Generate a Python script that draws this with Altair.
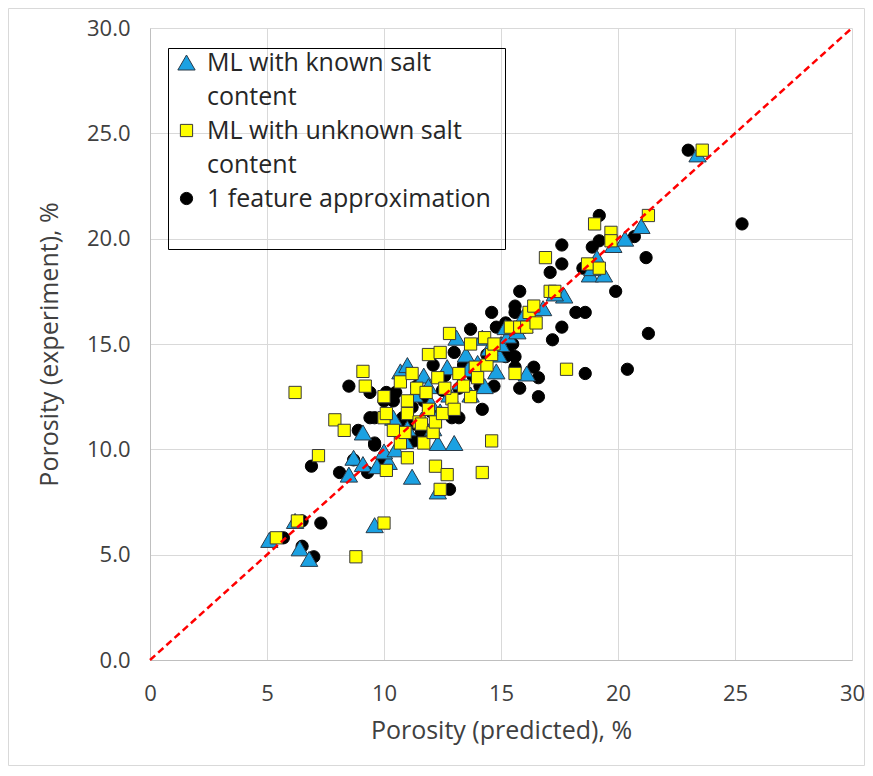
import altair as alt
import pandas as pd

# ML with known salt content (triangles)
tri_x = [5.1, 6.2, 6.4, 6.8, 9.6, 8.5, 8.7, 9.1, 9.7, 10.2, 9.1, 11.2, 12.3, 12.3, 13.0,
         10.7, 11.0, 11.7, 13.1, 14.2, 14.9, 14.8, 16.1, 16.8, 17.7, 18.8, 19.4, 19.8, 20.3,
         21.0, 23.4, 10.4, 11.0, 11.6, 12.0, 12.4, 12.8, 13.3, 13.6, 14.0, 14.5, 15.0, 15.3,
         15.7, 16.0, 16.3, 10.9, 10.0, 12.7, 13.7, 12.1, 11.3, 14.3, 15.2, 16.0, 17.3, 18.9,
         19.1, 10.5, 11.9, 13.5]
tri_y = [5.7, 6.6, 5.3, 4.8, 6.4, 8.8, 9.6, 9.3, 9.2, 9.4, 10.8, 8.7, 8.0, 10.3, 10.3,
         13.7, 14.0, 13.5, 15.3, 15.3, 14.5, 13.7, 13.6, 16.7, 17.3, 18.3, 18.3, 19.7, 20.0,
         20.6, 24.0, 11.5, 11.0, 11.4, 12.2, 11.8, 12.6, 13.2, 13.8, 14.1, 14.8, 15.0, 15.4,
         15.6, 15.9, 16.2, 10.4, 9.9, 13.9, 12.6, 11.0, 12.6, 13.0, 15.8, 16.4, 17.4, 18.6,
         19.1, 10.0, 13.0, 14.5]

# ML with unknown salt content (squares)
sq_x = [5.4, 6.3, 6.2, 7.2, 7.9, 8.3, 8.8, 9.1, 9.2, 10.0, 10.0, 10.0, 10.1, 10.1, 10.7,
        10.7, 11.0, 11.0, 11.0, 11.2, 11.4, 11.5, 11.6, 11.7, 11.8, 11.9, 11.9, 12.1, 12.2,
        12.2, 12.3, 12.4, 12.4, 12.5, 12.7, 12.8, 13.7, 13.7, 13.9, 14.2, 14.3, 14.4, 14.6,
        14.6, 14.7, 15.4, 15.6, 15.8, 16.1, 16.2, 16.4, 16.5, 16.9, 17.1, 17.3, 17.8, 18.7,
        19.0, 19.2, 19.7, 19.7, 21.3, 23.6, 10.9, 12.9, 13.2, 12.6, 13.0, 13.4, 14.0, 10.4]
sq_y = [5.8, 6.6, 12.7, 9.7, 11.4, 10.9, 4.9, 13.7, 13.0, 6.5, 12.5, 11.5, 11.7, 9.0, 10.3,
        13.2, 9.6, 12.3, 11.7, 13.6, 12.9, 11.3, 11.2, 10.3, 12.7, 14.5, 11.9, 10.8, 11.3,
        9.2, 13.4, 14.6, 8.1, 11.7, 8.8, 15.5, 15.0, 12.5, 13.9, 8.9, 15.3, 14.0, 14.5,
        10.4, 15.0, 15.8, 13.6, 15.8, 15.8, 16.5, 16.8, 16.0, 19.1, 17.5, 17.5, 13.8, 18.8,
        20.7, 18.6, 20.3, 19.9, 21.1, 24.2, 10.8, 12.4, 13.6, 12.9, 11.9, 13.0, 13.4, 10.9]

# 1 feature approximation (circles)
ci_x = [5.7, 6.5, 6.5, 7.3, 7.0, 6.9, 8.1, 8.7, 9.3, 9.6, 10.0, 10.0, 12.8, 8.5, 9.4,
        8.9, 9.6, 12.1, 13.7, 14.6, 10.1, 10.4, 10.8, 11.3, 12.9, 13.2, 13.2, 14.2, 11.0,
        11.7, 11.2, 11.4, 10.0, 10.5, 9.6, 9.4, 10.5, 11.3, 14.7, 14.1, 15.2, 15.6, 15.6,
        15.5, 15.3, 15.6, 15.2, 14.8, 15.8, 17.6, 17.6, 17.1, 18.2, 18.6, 17.6, 17.2, 19.9,
        21.3, 21.2, 18.6, 20.4, 16.4, 16.6, 15.6, 15.8, 16.6, 18.5, 18.9, 19.2, 19.2, 20.7,
        23.0, 25.3, 12.5, 13.5, 12.6, 13.8, 13.0, 13.4, 14.4, 12.0, 11.6, 10.7]
ci_y = [5.8, 5.4, 6.6, 6.5, 4.9, 9.2, 8.9, 9.5, 8.9, 10.2, 9.5, 9.1, 8.1, 13.0, 12.7,
        10.9, 10.3, 14.0, 15.7, 16.5, 12.7, 12.3, 11.5, 10.4, 11.5, 11.5, 12.9, 11.9, 11.6,
        12.3, 12.0, 13.0, 12.3, 12.7, 11.5, 11.5, 10.9, 11.2, 13.0, 13.0, 14.4, 14.4, 16.5,
        15.0, 14.6, 16.8, 16.0, 15.8, 17.5, 19.7, 18.8, 18.4, 16.5, 16.5, 15.8, 15.2, 17.5,
        15.5, 19.1, 13.6, 13.8, 13.9, 13.4, 13.9, 12.9, 12.5, 18.6, 19.6, 19.9, 21.1, 20.1,
        24.2, 20.7, 12.8, 14.2, 13.5, 13.5, 14.6, 14.0, 14.5, 11.8, 10.8, 11.0]

# legend rows: the wrapped second lines are separate, symbol-less entries
legend_rows = ["ML with known salt", "content", "ML with unknown salt", "content ",
               "1 feature approximation"]
KNOWN, UNKNOWN, FEATURE = legend_rows[0], legend_rows[2], legend_rows[4]
ticks = [0, 5, 10, 15, 20, 25, 30]
line_x = [0, 30]
line_y = [0, 30]

# draw order: circles first, then triangles, then squares
rows = []
for x, y in zip(ci_x, ci_y):
    rows.append({"pred": x, "exp": y, "series": FEATURE})
for x, y in zip(tri_x, tri_y):
    rows.append({"pred": x, "exp": y, "series": KNOWN})
for x, y in zip(sq_x, sq_y):
    rows.append({"pred": x, "exp": y, "series": UNKNOWN})
df = pd.DataFrame(rows)
df_line = pd.DataFrame({"pred": line_x, "exp": line_y})

xscale = alt.Scale(domain=[0, 30], nice=False)
yscale = alt.Scale(domain=[0, 30], nice=False)

leg = alt.Legend(title=None)

xax = alt.Axis(values=ticks, format="d", title="Porosity (predicted), %",
               labelPadding=23, titleY=78, titleBaseline="alphabetic", labelFlush=False)
yax = alt.Axis(values=ticks, format=".1f", title="Porosity (experiment),  %",
               labelPadding=20, titleX=-93, titleY=316, titleBaseline="alphabetic",
               titleAngle=270, labelFlush=False)

# decorative outer frame and legend box
frame = alt.Chart(pd.DataFrame({"a": [0]})).mark_rect(
    fill="white", fillOpacity=0, stroke="#D9D9D9", strokeWidth=1
).encode(x=alt.value(-141.5), x2=alt.value(714.5), y=alt.value(-19.5), y2=alt.value(737.5))

legend_box = alt.Chart(pd.DataFrame({"a": [0]})).mark_rect(
    fill="white", fillOpacity=0, stroke="#000000", strokeWidth=1
).encode(x=alt.value(18.5), x2=alt.value(355.5), y=alt.value(20.5), y2=alt.value(221.5))

points = alt.Chart(df).mark_point(filled=True, opacity=1, strokeWidth=1, strokeOpacity=1).encode(
    x=alt.X("pred:Q", scale=xscale, axis=xax),
    y=alt.Y("exp:Q", scale=yscale, axis=yax),
    shape=alt.Shape("series:N", scale=alt.Scale(domain=legend_rows,
                    range=["triangle-up", "circle", "square", "circle", "circle"]), legend=leg),
    fill=alt.Fill("series:N", scale=alt.Scale(domain=legend_rows,
                  range=["#1BA1E2", "transparent", "#FFFF00", "transparent", "#000000"]),
                  legend=leg),
    stroke=alt.Stroke("series:N", scale=alt.Scale(domain=legend_rows,
                      range=["#2B3A48", "transparent", "#3A3A3A", "transparent", "#000000"]),
                      legend=leg),
    size=alt.Size("series:N", scale=alt.Scale(type="ordinal", domain=legend_rows,
                  range=[300, 1, 150, 1, 150]), legend=leg),
)

line = alt.Chart(df_line).mark_line(color="#FF0000", strokeWidth=2.5, strokeDash=[7, 4]).encode(
    x=alt.X("pred:Q", scale=xscale),
    y=alt.Y("exp:Q", scale=yscale),
)

chart = alt.layer(frame, legend_box, points, line).properties(
    width=702, height=632,
    autosize=alt.AutoSizeParams(type="none"),
    padding={"left": 142, "top": 20, "right": 13, "bottom": 106},
    background="white",
).configure_view(stroke=None).configure_axis(
    domainColor="#BFBFBF", gridColor="#D9D9D9", ticks=False, tickSize=0,
    labelFont="Open Sans", labelFontSize=22, labelColor="#404040",
    titleFont="Open Sans", titleFontSize=25, titleColor="#404040", titleFontWeight="normal",
).configure_legend(
    orient="none", legendX=24, legendY=22, padding=0,
    labelFont="Open Sans", labelFontSize=25, labelColor="#262626", labelLimit=500,
    labelOffset=8, rowPadding=8,
    symbolStrokeWidth=1,
)

chart.save("out.html", embed_options={"renderer": "svg", "actions": False})
